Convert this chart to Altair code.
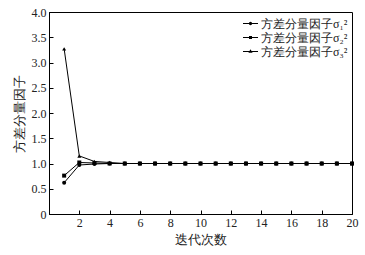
import altair as alt
import pandas as pd

iters = list(range(1, 21))
s1 = [0.62, 0.97, 0.99, 1.00] + [1.00] * 16
s2 = [0.76, 1.02, 1.01, 1.00] + [1.00] * 16
s3 = [3.27, 1.15, 1.04, 1.02] + [1.00] * 16
names = ["方差分量因子σ₁²", "方差分量因子σ₂²", "方差分量因子σ₃²"]

rows = []
for name, vals in zip(names, [s1, s2, s3]):
    for x, y in zip(iters, vals):
        rows.append({"x": x, "y": y, "series": name, "leg": name})
df = pd.DataFrame(rows)

FONT = "Times New Roman, Liberation Serif, serif"
INWARD = {"expr": "-4"}

xenc = alt.X("x:Q", scale=alt.Scale(domain=[0, 20], nice=False),
             axis=alt.Axis(values=[2, 4, 6, 8, 10, 12, 14, 16, 18, 20], title="迭代次数",
                           grid=False, tickSize=INWARD, labelPadding=7, titlePadding=5,
                           labelOverlap=False, labelFlush=False))
yenc = alt.Y("y:Q", scale=alt.Scale(domain=[0, 4], nice=False),
             axis=alt.Axis(values=[0, 0.5, 1, 1.5, 2, 2.5, 3, 3.5, 4], title="方差分量因子",
                           grid=False, tickSize=INWARD, labelPadding=7, titlePadding=5,
                           labelOverlap=False, labelFlush=False,
                           labelExpr="datum.value == 0 ? '0' : format(datum.value, '.1f')"))

base = alt.Chart(df)
lines = base.mark_line(color="black", strokeWidth=1).encode(x=xenc, y=yenc, detail="series:N")
pts = base.mark_point(filled=True, color="black", opacity=1).encode(
    x=xenc, y=yenc,
    shape=alt.Shape("series:N", scale=alt.Scale(domain=names, range=["circle", "square", "triangle-up"]),
                    legend=None),
    size=alt.value(16),
)
BAR = "M-1,-0.067H1V0.067H-1Z"
leg_paths = [
    BAR + "M0.22,0L0.16,0.16L0,0.22L-0.16,0.16L-0.22,0L-0.16,-0.16L0,-0.22L0.16,-0.16Z",
    BAR + "M-0.2,-0.2H0.2V0.2H-0.2Z",
    BAR + "M0,-0.3L0.28,0.18H-0.28Z",
]
legl = base.mark_point(opacity=0, filled=True, color="black").encode(
    x=xenc, y=yenc,
    shape=alt.Shape("leg:N", scale=alt.Scale(domain=names, range=leg_paths),
                    legend=alt.Legend(title=None, orient="top-right", offset=4, padding=0,
                                      symbolSize=225, symbolFillColor="black", symbolStrokeColor="black",
                                      symbolOpacity=1, symbolStrokeWidth=0, labelFontSize=12,
                                      labelFont=FONT, labelColor="#222", rowPadding=0,
                                      labelOffset=3)),
)

chart = alt.layer(lines, pts, legl).resolve_scale(shape="independent").resolve_legend(shape="independent").properties(
    width=303, height=202,
    autosize=alt.AutoSizeParams(type="none"),
    padding={"left": 49, "top": 12, "right": 13, "bottom": 41},
).configure(font=FONT).configure_view(stroke="black", strokeWidth=1).configure_axis(
    domainColor="black", tickColor="black", labelFont=FONT, titleFont=FONT,
    labelFontSize=12, titleFontSize=13, labelColor="#222", titleColor="#222",
    titleFontWeight="normal", labelOverlap=False,
)

chart.save("out.html", embed_options={"renderer": "svg", "actions": False})
